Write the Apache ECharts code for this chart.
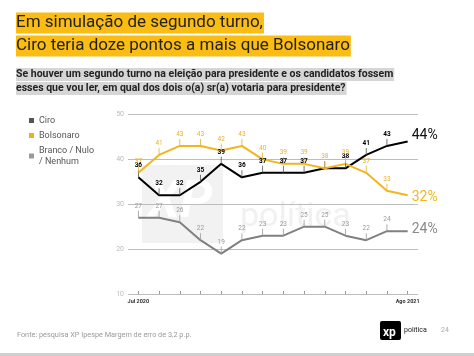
<!DOCTYPE html>
<html>
<head>
<meta charset="utf-8">
<script src="https://cdn.jsdelivr.net/npm/echarts@6/dist/echarts.min.js"></script>
<style>
html,body{margin:0;padding:0;background:#fff;}
#c{width:474px;height:356px;}
</style>
</head>
<body>
<div id="c"></div>
<script>
var categories = ['Jul 2020','Ago 2020','Set 2020','Out 2020','Nov 2020','Dez 2020','Jan 2021','Fev 2021','Mar 2021','Abr 2021','Mai 2021','Jun 2021','Jul 2021','Ago 2021'];
var ciro = [36, 32, 32, 35, 39, 36, 37, 37, 37, 38, 38, 41, 43, 44];
var bolsonaro = [37, 41, 43, 43, 42, 43, 40, 39, 39, 38, 39, 37, 33, 32];
var branco = [27, 27, 26, 22, 19, 22, 23, 23, 25, 25, 23, 22, 24, 24];
var seriesNames = ['Ciro', 'Bolsonaro', 'Branco / Nulo'];
var yTicks = [10, 20, 30, 40, 50];
var hiddenCiroLabels = [9];

var YEL = '#F2B51C', BLK = '#000000', GRY = '#808080';
var FONT = 'Roboto, "Liberation Sans", Arial, sans-serif';

function build(values, hidden) {
  return values.map(function (v, i) {
    if (i === values.length - 1) return { value: v, symbol: 'none', label: { show: false } };
    if (hidden && hidden.indexOf(i) >= 0) return { value: v, label: { show: false } };
    return v;
  });
}

function mkSeries(name, values, color, labelColor, labelWeight, endColor, endOffset, hidden) {
  return {
    name: name,
    type: 'line',
    data: build(values, hidden),
    z: 5,
    symbol: 'rect',
    symbolSize: [0.8, 7],
    symbolOffset: [0, -3.5],
    showSymbol: true,
    lineStyle: { color: color, width: 2 },
    itemStyle: { color: labelColor === '#000' ? '#555' : labelColor },
    label: {
      show: true, position: 'top', distance: 1,
      color: labelColor, fontSize: 6.5, fontWeight: labelWeight, fontFamily: FONT
    },
    endLabel: {
      show: true, formatter: function (p) { return p.value + '%'; },
      color: endColor, fontSize: 14, fontFamily: FONT, offset: endOffset, distance: 3
    },
    emphasis: { disabled: true },
    animation: false
  };
}

var chart = echarts.init(document.getElementById('c'), null, { renderer: 'canvas' });
chart.setOption({
  backgroundColor: '#fff',
  animation: false,
  textStyle: { fontFamily: FONT },
  grid: { left: 128, right: 56, top: 114.5, bottom: 62, containLabel: false },
  legend: {
    orient: 'vertical', left: 24, top: 110,
    icon: 'rect', itemWidth: 5, itemHeight: 5, itemGap: 4,
    selectedMode: false,
    data: seriesNames,
    formatter: function (n) { return n === 'Branco / Nulo' ? 'Branco / Nulo\n/ Nenhum' : n; },
    textStyle: { color: '#555', fontSize: 9, fontFamily: FONT, lineHeight: 11 }
  },
  xAxis: {
    type: 'category', data: categories, boundaryGap: true,
    axisLine: { show: false },
    axisTick: { show: true, alignWithLabel: true, inside: true, length: 3, lineStyle: { color: '#999' } },
    axisLabel: {
      interval: 0, margin: 5,
      formatter: function (v, i) { return (i === 0 || i === categories.length - 1) ? v : ''; },
      fontSize: 5.5, fontWeight: 'bold', color: '#333'
    },
    splitLine: { show: false }
  },
  yAxis: {
    type: 'value', min: yTicks[0], max: yTicks[yTicks.length - 1], interval: 10,
    axisLine: { show: false }, axisTick: { show: false },
    axisLabel: { color: '#bbb', fontSize: 7, margin: 4 },
    splitLine: { lineStyle: { color: '#bdbdbd', width: 1 } }
  },
  graphic: [
    { type: 'rect', z: -10, shape: { x: 142, y: 165, width: 81, height: 78 }, style: { fill: '#f2f2f2' } },
    { type: 'text', z: -9, left: 148, top: 178, style: { text: 'XP', fill: '#ffffff', font: 'italic bold 52px ' + FONT } },
    { type: 'text', z: -9, left: 240, top: 200, style: { text: 'política', fill: '#f1f1f1', font: '34px ' + FONT } },
    { type: 'text', left: 16, top: 12.5, style: { text: 'Em simulação de segundo turno,', fill: '#222', font: '17px ' + FONT, backgroundColor: '#FBBD14', padding: [2, 1, 2, 0] } },
    { type: 'text', left: 16, top: 35.5, style: { text: 'Ciro teria doze pontos a mais que Bolsonaro', fill: '#222', font: '17px ' + FONT, backgroundColor: '#FBBD14', padding: [2, 1, 2, 0] } },
    { type: 'text', left: 16, top: 68, style: { text: 'Se houver um segundo turno na eleição para presidente e os candidatos fossem', fill: '#222', font: 'bold 10.5px ' + FONT, backgroundColor: '#d6d6d6', padding: [1, 1, 1, 0] } },
    { type: 'text', left: 16, top: 82, style: { text: 'esses que vou ler, em qual dos dois o(a) sr(a) votaria para presidente?', fill: '#222', font: 'bold 10.5px ' + FONT, backgroundColor: '#d6d6d6', padding: [1, 1, 1, 0] } },
    { type: 'text', left: 17, top: 332, style: { text: 'Fonte: pesquisa XP Ipespe Margem de erro de 3,2 p.p.', fill: '#9a9a9a', font: '7.3px ' + FONT } },
    { type: 'rect', shape: { x: 380, y: 321, width: 21, height: 19, r: 2 }, style: { fill: '#000' } },
    { type: 'text', left: 383, top: 327, style: { text: 'xp', fill: '#fff', font: 'bold 12px ' + FONT } },
    { type: 'text', left: 404, top: 327, style: { text: 'política', fill: '#222', font: '7px ' + FONT } },
    { type: 'text', left: 441, top: 327, style: { text: '24', fill: '#aaa', font: '7px ' + FONT } },
    { type: 'rect', shape: { x: 0, y: 353, width: 474, height: 3 }, style: { fill: '#cfcfcf' } }
  ],
  series: [
    mkSeries(seriesNames[0], ciro, BLK, '#000', 'bold', '#111', [1, -6], hiddenCiroLabels),
    mkSeries(seriesNames[1], bolsonaro, YEL, '#E8B030', 'normal', YEL, [1, 2]),
    mkSeries(seriesNames[2], branco, GRY, '#9a9a9a', 'normal', '#8a8a8a', [1, -2])
  ]
});
</script>
</body>
</html>
